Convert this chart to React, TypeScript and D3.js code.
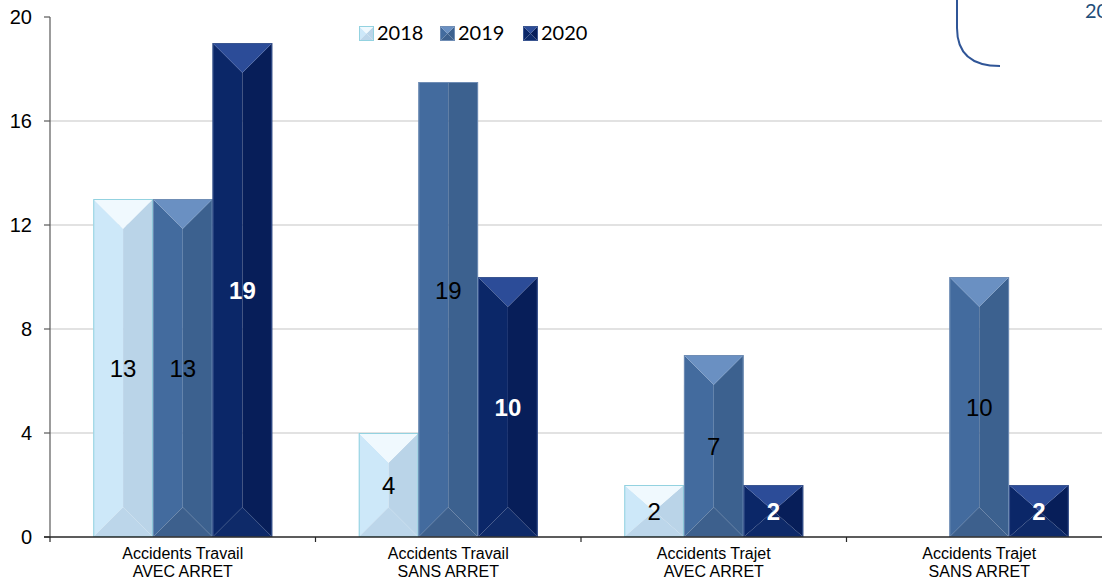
import React from "react";
import * as d3 from "d3";

const categories: [string, string][] = [
  ["Accidents Travail", "AVEC ARRET"],
  ["Accidents Travail", "SANS ARRET"],
  ["Accidents Trajet", "AVEC ARRET"],
  ["Accidents Trajet", "SANS ARRET"],
];
const seriesNames = ["2018", "2019", "2020"];
// drawn bar heights (the 2019 "Travail SANS ARRET" bar is cut at the top in the source)
const bars2018: (number | null)[] = [13, 4, 2, null];
const bars2019: (number | null)[] = [13, 17.5, 7, 10];
const bars2020: (number | null)[] = [19, 10, 2, 2];
// data labels
const labels2018: (number | null)[] = [13, 4, 2, null];
const labels2019: (number | null)[] = [13, 19, 7, 10];
const labels2020: (number | null)[] = [19, 10, 2, 2];
const yTicks = [0, 4, 8, 12, 16, 20];

const W = 1102;
const H = 581;

type Pal = { top: string; left: string; right: string; bottom: string; stroke: string; label: string; bold: boolean };
const palettes: Pal[] = [
  { top: "#f0f9fe", left: "#cde8f9", right: "#bad4e8", bottom: "#bcd6ea", stroke: "#93d2e0", label: "#000", bold: false },
  { top: "#6a90c2", left: "#436b9e", right: "#3c618f", bottom: "#3d608d", stroke: "#6f8db5", label: "#000", bold: false },
  { top: "#2c4c98", left: "#0b2768", right: "#071e59", bottom: "#0e2a69", stroke: "#3a5590", label: "#fff", bold: true },
];

function Bevel({ x, y, w, h, pal, flatTop }: { x: number; y: number; w: number; h: number; pal: Pal; flatTop?: boolean }) {
  const d = Math.min(w / 2, h / 2);
  const cx = x + w / 2;
  const dt = flatTop ? 0 : d;
  const pts = (a: [number, number][]) => a.map((p) => p.join(",")).join(" ");
  return (
    <g>
      <polygon points={pts([[x, y], [cx, y + dt], [cx, y + h - d], [x, y + h]])} fill={pal.left} />
      <polygon points={pts([[x + w, y], [cx, y + dt], [cx, y + h - d], [x + w, y + h]])} fill={pal.right} />
      {!flatTop && <polygon points={pts([[x, y], [x + w, y], [cx, y + d]])} fill={pal.top} />}
      <polygon points={pts([[x, y + h], [x + w, y + h], [cx, y + h - d]])} fill={pal.bottom} />
      <rect x={x + 0.5} y={y + 0.5} width={w - 1} height={h - 1} fill="none" stroke={pal.stroke} strokeWidth={1} />
    </g>
  );
}

export default function App() {
  const left = 50;
  const step = 265.5;
  const x0 = d3
    .scaleBand<number>()
    .domain(categories.map((_, i) => i))
    .range([left, left + step * categories.length])
    .paddingInner(0)
    .paddingOuter(0);
  const x1 = d3.scaleBand<string>().domain(seriesNames).range([0, x0.bandwidth()]).paddingInner(0).paddingOuter(0.725);
  const y = d3.scaleLinear().domain([0, 20]).range([537, 17]);

  const barSets = [bars2018, bars2019, bars2020];
  const labelSets = [labels2018, labels2019, labels2020];
  const axisFont = "'Liberation Sans', Arial, sans-serif";
  const legendFont = "Lato, 'Open Sans', sans-serif";

  const legendX = [359, 440, 523];

  return (
    <svg width={W} height={H} style={{ position: "absolute", left: 0, top: 0, background: "#fff" }}>
      <rect x={0} y={0} width={W} height={H} fill="#fff" />
      {/* gridlines */}
      {yTicks.filter((t) => t > 0 && t < 20).map((t) => (
        <line key={"g" + t} x1={left} x2={W} y1={y(t)} y2={y(t)} stroke="#d9d9d9" strokeWidth={1.5} />
      ))}
      {/* bars */}
      {barSets.map((set, si) =>
        set.map((v, ci) => {
          if (v == null) return null;
          const bx = (x0(ci) as number) + (x1(seriesNames[si]) as number);
          const bw = x1.bandwidth();
          const lab = labelSets[si][ci];
          return (
            <Bevel
              key={`b${si}-${ci}`}
              x={bx}
              y={y(v)}
              w={bw}
              h={y(0) - y(v)}
              pal={palettes[si]}
              flatTop={lab != null && lab !== v}
            />
          );
        })
      )}
      {/* data labels */}
      {labelSets.map((set, si) =>
        set.map((v, ci) => {
          if (v == null) return null;
          const cx = (x0(ci) as number) + (x1(seriesNames[si]) as number) + x1.bandwidth() / 2;
          return (
            <text
              key={`l${si}-${ci}`}
              x={cx}
              y={y(v / 2)}
              dy="0.36em"
              textAnchor="middle"
              fontFamily={axisFont}
              fontSize={24}
              fontWeight={palettes[si].bold ? "bold" : "normal"}
              fill={palettes[si].label}
            >
              {v}
            </text>
          );
        })
      )}
      {/* y axis */}
      <line x1={left} x2={left} y1={y(20)} y2={y(0)} stroke="#595959" strokeWidth={1.2} />
      {yTicks.map((t) => (
        <g key={"t" + t}>
          <line x1={left - 6} x2={left} y1={y(t)} y2={y(t)} stroke="#595959" strokeWidth={1.2} />
          <text x={32} y={y(t)} dy="0.36em" textAnchor="end" fontFamily={axisFont} fontSize={20} fill="#000">
            {t}
          </text>
        </g>
      ))}
      {/* x axis */}
      <line x1={left - 6} x2={W} y1={y(0)} y2={y(0)} stroke="#262626" strokeWidth={1.3} />
      {categories.map((_, i) => (
        <line key={"xt" + i} x1={x0(i) as number} x2={x0(i) as number} y1={y(0)} y2={y(0) + 5} stroke="#262626" strokeWidth={1.2} />
      ))}
      {categories.map((c, i) => (
        <text key={"c" + i} textAnchor="middle" fontFamily={axisFont} fontSize={16} fill="#000">
          <tspan x={(x0(i) as number) + x0.bandwidth() / 2} y={559}>{c[0]}</tspan>
          <tspan x={(x0(i) as number) + x0.bandwidth() / 2} y={577}>{c[1]}</tspan>
        </text>
      ))}
      {/* legend */}
      {seriesNames.map((s, i) => (
        <g key={"lg" + s}>
          <Bevel x={legendX[i]} y={26} w={15} h={15} pal={palettes[i]} />
          <text x={legendX[i] + 18} y={40} fontFamily={legendFont} fontSize={20} fill="#000">
            {s}
          </text>
        </g>
      ))}
      {/* slide decoration at top right */}
      <path d="M957,0 L957,28 Q957,66 1000,66" fill="none" stroke="#2f5597" strokeWidth={2} />
      <text x={1085} y={18} fontFamily={legendFont} fontSize={20} fill="#1f4e79">
        20
      </text>
    </svg>
  );
}
